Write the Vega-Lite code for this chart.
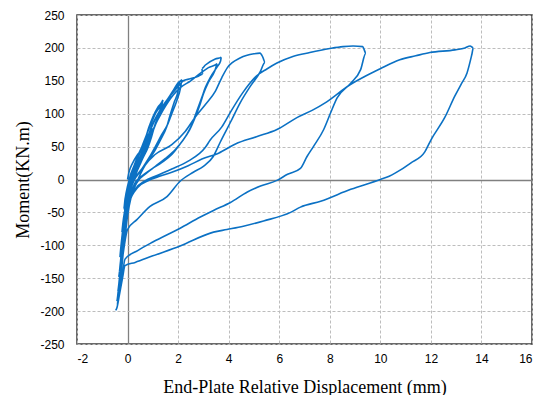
{
  "$schema": "https://vega.github.io/schema/vega-lite/v6.json",
  "width": 455,
  "height": 329,
  "autosize": {"type": "none"},
  "padding": {"left": 77, "top": 15, "right": 9, "bottom": 51},
  "background": "white",
  "config": {
    "view": {"stroke": "#3a3a3a", "strokeWidth": 1.5},
    "axis": {
      "labelFont": "Liberation Sans",
      "labelFontSize": 12,
      "labelColor": "#000000",
      "labelExpr": "toString(datum.value)",
      "titleFont": "Liberation Serif",
      "titleFontSize": 18,
      "titleFontWeight": "normal",
      "titleColor": "#000000",
      "ticks": false,
      "domain": false,
      "gridColor": {"condition": {"test": "datum.value === 0", "value": "#808080"}, "value": "#bdbdbd"},
      "gridDash": {"condition": {"test": "datum.value === 0", "value": []}, "value": [3, 2]},
      "gridWidth": {"condition": {"test": "datum.value === 0", "value": 1.3}, "value": 1}
    }
  },
  "data": {
    "values": [
      {"d": 0, "m": 0},
      {"d": 0.05, "m": 10}, {"d": 0.2, "m": 25}, {"d": 0.4, "m": 38}, {"d": 0.6, "m": 48}, {"d": 0.55, "m": 40}, {"d": 0.35, "m": 25}, {"d": 0.15, "m": 8}, {"d": 0.0, "m": -10}, {"d": -0.1, "m": -30}, {"d": -0.15, "m": -45}, {"d": -0.1, "m": -30}, {"d": 0.0, "m": -12}, {"d": 0.1, "m": 5},
      {"d": 0.25, "m": 20}, {"d": 0.45, "m": 40}, {"d": 0.7, "m": 60}, {"d": 0.85, "m": 70}, {"d": 1.0, "m": 78}, {"d": 0.9, "m": 68}, {"d": 0.7, "m": 50}, {"d": 0.5, "m": 32}, {"d": 0.3, "m": 15}, {"d": 0.12, "m": 0}, {"d": 0.0, "m": -20}, {"d": -0.1, "m": -45}, {"d": -0.18, "m": -65}, {"d": -0.22, "m": -80}, {"d": -0.15, "m": -60}, {"d": -0.05, "m": -35}, {"d": 0.05, "m": -12}, {"d": 0.15, "m": 5},
      {"d": 0.3, "m": 22}, {"d": 0.5, "m": 42}, {"d": 0.7, "m": 62}, {"d": 0.85, "m": 80}, {"d": 1.0, "m": 95}, {"d": 1.2, "m": 110}, {"d": 1.4, "m": 121}, {"d": 1.35, "m": 112}, {"d": 1.2, "m": 95}, {"d": 1.05, "m": 78}, {"d": 0.85, "m": 60}, {"d": 0.7, "m": 45}, {"d": 0.5, "m": 28}, {"d": 0.3, "m": 12}, {"d": 0.15, "m": 0}, {"d": 0.0, "m": -25}, {"d": -0.12, "m": -55}, {"d": -0.2, "m": -80}, {"d": -0.27, "m": -105}, {"d": -0.3, "m": -118}, {"d": -0.22, "m": -95}, {"d": -0.12, "m": -65}, {"d": -0.02, "m": -35}, {"d": 0.08, "m": -10},
      {"d": 0.25, "m": 15}, {"d": 0.45, "m": 38}, {"d": 0.65, "m": 58}, {"d": 0.9, "m": 82}, {"d": 1.1, "m": 100}, {"d": 1.35, "m": 118}, {"d": 1.25, "m": 100}, {"d": 1.1, "m": 85}, {"d": 0.95, "m": 65}, {"d": 0.8, "m": 48}, {"d": 0.6, "m": 32}, {"d": 0.4, "m": 15}, {"d": 0.2, "m": 2}, {"d": 0.05, "m": -20}, {"d": -0.1, "m": -55}, {"d": -0.2, "m": -90}, {"d": -0.28, "m": -115}, {"d": -0.2, "m": -90}, {"d": -0.1, "m": -60}, {"d": 0.0, "m": -30}, {"d": 0.1, "m": -8},
      {"d": 0.3, "m": 15}, {"d": 0.55, "m": 40}, {"d": 0.8, "m": 65}, {"d": 1.05, "m": 88}, {"d": 1.3, "m": 105}, {"d": 1.55, "m": 120}, {"d": 1.8, "m": 135}, {"d": 2.0, "m": 147}, {"d": 2.15, "m": 152}, {"d": 2.1, "m": 140}, {"d": 1.95, "m": 120}, {"d": 1.75, "m": 100}, {"d": 1.6, "m": 85}, {"d": 1.35, "m": 68}, {"d": 1.1, "m": 50}, {"d": 0.85, "m": 33}, {"d": 0.6, "m": 18}, {"d": 0.35, "m": 5}, {"d": 0.15, "m": -10}, {"d": 0.0, "m": -35}, {"d": -0.12, "m": -70}, {"d": -0.22, "m": -105}, {"d": -0.3, "m": -135}, {"d": -0.35, "m": -148}, {"d": -0.28, "m": -125}, {"d": -0.18, "m": -90}, {"d": -0.08, "m": -55}, {"d": 0.02, "m": -25}, {"d": 0.15, "m": -5},
      {"d": 0.4, "m": 15}, {"d": 0.7, "m": 42}, {"d": 0.95, "m": 68}, {"d": 1.2, "m": 92}, {"d": 1.4, "m": 108}, {"d": 1.6, "m": 120}, {"d": 1.85, "m": 138}, {"d": 2.05, "m": 148}, {"d": 2.0, "m": 135}, {"d": 1.85, "m": 118}, {"d": 1.7, "m": 100}, {"d": 1.55, "m": 80}, {"d": 1.3, "m": 60}, {"d": 1.05, "m": 42}, {"d": 0.8, "m": 28}, {"d": 0.5, "m": 12}, {"d": 0.25, "m": -2}, {"d": 0.05, "m": -25}, {"d": -0.1, "m": -60}, {"d": -0.22, "m": -100}, {"d": -0.32, "m": -140}, {"d": -0.25, "m": -115}, {"d": -0.15, "m": -80}, {"d": -0.05, "m": -45}, {"d": 0.08, "m": -18},
      {"d": 0.2, "m": 5}, {"d": 0.5, "m": 35}, {"d": 0.8, "m": 65}, {"d": 1.0, "m": 85}, {"d": 1.36, "m": 110}, {"d": 1.75, "m": 130}, {"d": 2.08, "m": 145}, {"d": 2.2, "m": 150}, {"d": 2.48, "m": 153}, {"d": 2.8, "m": 157}, {"d": 2.97, "m": 160}, {"d": 2.94, "m": 169}, {"d": 3.08, "m": 174}, {"d": 3.47, "m": 183}, {"d": 3.71, "m": 186}, {"d": 3.68, "m": 180}, {"d": 3.54, "m": 171}, {"d": 3.27, "m": 155}, {"d": 3.08, "m": 140}, {"d": 2.94, "m": 125}, {"d": 2.74, "m": 104}, {"d": 2.55, "m": 84}, {"d": 2.35, "m": 69}, {"d": 2.08, "m": 54}, {"d": 1.75, "m": 38}, {"d": 1.36, "m": 26}, {"d": 0.96, "m": 16}, {"d": 0.56, "m": 5}, {"d": 0.3, "m": -5}, {"d": 0.1, "m": -25}, {"d": -0.05, "m": -55}, {"d": -0.15, "m": -90}, {"d": -0.25, "m": -125}, {"d": -0.33, "m": -155}, {"d": -0.38, "m": -170}, {"d": -0.3, "m": -145}, {"d": -0.2, "m": -110}, {"d": -0.1, "m": -70}, {"d": 0.0, "m": -40}, {"d": 0.12, "m": -15},
      {"d": 0.35, "m": 10}, {"d": 0.7, "m": 45}, {"d": 1.0, "m": 75}, {"d": 1.4, "m": 105}, {"d": 1.8, "m": 128}, {"d": 2.1, "m": 140}, {"d": 2.5, "m": 150}, {"d": 2.9, "m": 162}, {"d": 3.2, "m": 170}, {"d": 3.55, "m": 176}, {"d": 3.45, "m": 165}, {"d": 3.2, "m": 148}, {"d": 3.0, "m": 130}, {"d": 2.85, "m": 112}, {"d": 2.65, "m": 92}, {"d": 2.45, "m": 75}, {"d": 2.2, "m": 60}, {"d": 1.9, "m": 46}, {"d": 1.5, "m": 32}, {"d": 1.1, "m": 20}, {"d": 0.7, "m": 8}, {"d": 0.4, "m": -3}, {"d": 0.15, "m": -25}, {"d": 0.0, "m": -55}, {"d": -0.12, "m": -95}, {"d": -0.25, "m": -135}, {"d": -0.36, "m": -165}, {"d": -0.28, "m": -140}, {"d": -0.18, "m": -100}, {"d": -0.08, "m": -65}, {"d": 0.05, "m": -35}, {"d": 0.3, "m": -10},
      {"d": 0.7, "m": 22}, {"d": 1.09, "m": 38}, {"d": 1.75, "m": 53}, {"d": 2.28, "m": 73}, {"d": 2.68, "m": 95}, {"d": 3.08, "m": 114}, {"d": 3.47, "m": 134}, {"d": 3.73, "m": 155}, {"d": 3.95, "m": 170}, {"d": 4.47, "m": 185}, {"d": 5.0, "m": 191}, {"d": 5.24, "m": 192}, {"d": 5.35, "m": 186}, {"d": 5.44, "m": 178}, {"d": 5.24, "m": 163}, {"d": 4.86, "m": 142}, {"d": 4.46, "m": 117}, {"d": 4.07, "m": 87}, {"d": 3.67, "m": 57}, {"d": 3.39, "m": 35}, {"d": 3.0, "m": 20}, {"d": 2.6, "m": 11}, {"d": 2.07, "m": -3}, {"d": 1.56, "m": -26}, {"d": 0.89, "m": -41}, {"d": 0.37, "m": -61}, {"d": 0.0, "m": -76}, {"d": -0.2, "m": -120}, {"d": -0.35, "m": -165}, {"d": -0.42, "m": -185}, {"d": -0.32, "m": -150}, {"d": -0.2, "m": -110}, {"d": -0.1, "m": -75}, {"d": 0.0, "m": -45},
      {"d": 0.3, "m": -15}, {"d": 0.69, "m": -2}, {"d": 1.09, "m": 5}, {"d": 1.75, "m": 16}, {"d": 2.4, "m": 28}, {"d": 3.08, "m": 49}, {"d": 3.27, "m": 60}, {"d": 3.73, "m": 80}, {"d": 4.05, "m": 101}, {"d": 4.56, "m": 132}, {"d": 5.12, "m": 158}, {"d": 5.51, "m": 168}, {"d": 5.91, "m": 177}, {"d": 6.54, "m": 187}, {"d": 7.21, "m": 193}, {"d": 8.0, "m": 199}, {"d": 8.52, "m": 202}, {"d": 8.92, "m": 203}, {"d": 9.3, "m": 202}, {"d": 9.43, "m": 192}, {"d": 9.22, "m": 167}, {"d": 8.82, "m": 146}, {"d": 8.29, "m": 124}, {"d": 8.03, "m": 101}, {"d": 7.76, "m": 76}, {"d": 7.37, "m": 51}, {"d": 7.1, "m": 35}, {"d": 6.84, "m": 17}, {"d": 6.33, "m": 8}, {"d": 5.93, "m": -1}, {"d": 5.26, "m": -10}, {"d": 4.74, "m": -19}, {"d": 4.07, "m": -35}, {"d": 3.4, "m": -47}, {"d": 2.88, "m": -57}, {"d": 2.08, "m": -74}, {"d": 1.0, "m": -95}, {"d": 0.4, "m": -108}, {"d": -0.1, "m": -121}, {"d": -0.25, "m": -160}, {"d": -0.4, "m": -190}, {"d": -0.3, "m": -160}, {"d": -0.18, "m": -115}, {"d": -0.08, "m": -75}, {"d": 0.0, "m": -45},
      {"d": 0.4, "m": -12}, {"d": 0.81, "m": -2}, {"d": 1.21, "m": 4}, {"d": 1.75, "m": 11}, {"d": 2.4, "m": 21}, {"d": 2.94, "m": 31}, {"d": 3.6, "m": 40}, {"d": 4.27, "m": 54}, {"d": 5.1, "m": 65}, {"d": 5.91, "m": 76}, {"d": 6.7, "m": 94}, {"d": 7.3, "m": 105}, {"d": 7.88, "m": 118}, {"d": 8.8, "m": 144}, {"d": 9.4, "m": 157}, {"d": 9.98, "m": 168}, {"d": 10.77, "m": 182}, {"d": 11.4, "m": 188}, {"d": 11.96, "m": 193}, {"d": 12.95, "m": 197}, {"d": 13.35, "m": 200}, {"d": 13.55, "m": 203}, {"d": 13.68, "m": 200}, {"d": 13.62, "m": 190}, {"d": 13.43, "m": 162}, {"d": 13.2, "m": 145}, {"d": 12.95, "m": 127}, {"d": 12.56, "m": 95}, {"d": 12.0, "m": 60}, {"d": 11.76, "m": 42}, {"d": 11.2, "m": 25}, {"d": 10.6, "m": 10}, {"d": 10.35, "m": 5}, {"d": 10.0, "m": 0}, {"d": 8.83, "m": -15}, {"d": 7.64, "m": -33}, {"d": 6.84, "m": -42}, {"d": 6.45, "m": -50}, {"d": 5.38, "m": -63}, {"d": 4.58, "m": -71}, {"d": 3.93, "m": -76}, {"d": 3.4, "m": -80}, {"d": 2.08, "m": -101}, {"d": 1.0, "m": -116}, {"d": 0.3, "m": -126}, {"d": -0.1, "m": -131}, {"d": -0.2, "m": -150}, {"d": -0.32, "m": -175}, {"d": -0.42, "m": -195}, {"d": -0.47, "m": -199}
    ]
  },
  "mark": {"type": "line", "color": "#0b71c4", "strokeWidth": 1.6, "interpolate": "monotone", "clip": true},
  "encoding": {
    "x": {
      "field": "d",
      "type": "quantitative",
      "scale": {"domain": [-2, 16], "nice": false, "zero": false},
      "axis": {"values": [-2, 0, 2, 4, 6, 8, 10, 12, 14, 16], "title": "End-Plate Relative Displacement (mm)", "labelPadding": 9, "titlePadding": 14}
    },
    "y": {
      "field": "m",
      "type": "quantitative",
      "scale": {"domain": [-250, 250], "nice": false},
      "axis": {"values": [-250, -200, -150, -100, -50, 0, 50, 100, 150, 200, 250], "title": "Moment(KN.m)", "labelPadding": 13, "titlePadding": 7}
    },
    "order": {"value": null}
  }
}
